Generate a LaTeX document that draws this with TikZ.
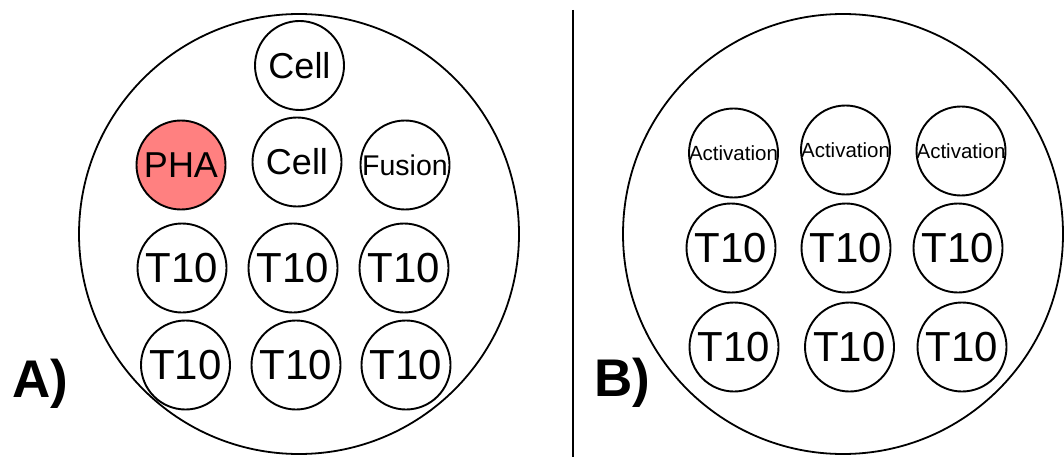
\documentclass[tikz,border=0pt]{standalone}
\usepackage{fontspec}
\setmainfont{Liberation Sans}
\begin{document}
\begin{tikzpicture}[x=1pt,y=-1pt,
  dish/.style={circle,draw=black,line width=1.8pt,minimum size=440pt,inner sep=0pt},
  well/.style={circle,draw=black,line width=1.9pt,fill=white,minimum size=89pt,inner sep=0pt},
  pha/.style={well,fill=phared},
  big/.style={font=\fontsize{42}{42}\selectfont},
  mid/.style={font=\fontsize{36}{36}\selectfont},
  small/.style={font=\fontsize{28.5}{28.5}\selectfont},
  tiny/.style={font=\fontsize{20.5}{20.5}\selectfont},
  panel/.style={font=\fontsize{53}{53}\selectfont\bfseries,inner sep=0pt,anchor=base west}]
\definecolor{phared}{RGB}{255,128,128}
\useasboundingbox (0,0) rectangle (1064,457);
\fill[white] (0,0) rectangle (1064,457);

% panel A: dish with its wells
\node[dish] (dishA) at (299,234) {};
\node[well,mid] (cellTop) at (299.5,65.5) {\makebox[0pt]{Cell}};
\node[pha,mid] (pha) at (181,165) {\makebox[0pt]{PHA}};
\node[well,mid] (cellMid) at (297,162) {\makebox[0pt]{Cell}};
\node[well,small] (fusion) at (405,165) {\makebox[0pt]{Fusion}};
\node[well,big] (a1) at (182,268) {\makebox[0pt]{T10}};
\node[well,big] (a2) at (293,268) {\makebox[0pt]{T10}};
\node[well,big] (a3) at (404,268) {\makebox[0pt]{T10}};
\node[well,big] (a4) at (185.5,365) {\makebox[0pt]{T10}};
\node[well,big] (a5) at (296,365) {\makebox[0pt]{T10}};
\node[well,big] (a6) at (406,365) {\makebox[0pt]{T10}};
\node[panel] (labA) at (12,397) {A)};

% divider
\coordinate (divTop) at (573,10);
\coordinate (divBot) at (573,457);
\draw[line width=2.8pt] (divTop) -- (divBot);

% panel B: dish with its wells
\node[dish] (dishB) at (843,234) {};
\node[well,tiny] (act1) at (733.5,153) {\makebox[0pt]{Activation}};
\node[well,tiny] (act2) at (845.5,150) {\makebox[0pt]{Activation}};
\node[well,tiny] (act3) at (961,151) {\makebox[0pt]{Activation}};
\node[well,big] (b1) at (731,248) {\makebox[0pt]{T10}};
\node[well,big] (b2) at (846,248) {\makebox[0pt]{T10}};
\node[well,big] (b3) at (958,248) {\makebox[0pt]{T10}};
\node[well,big] (b4) at (734,347) {\makebox[0pt]{T10}};
\node[well,big] (b5) at (849.5,347) {\makebox[0pt]{T10}};
\node[well,big] (b6) at (962,347) {\makebox[0pt]{T10}};
\node[panel] (labB) at (594,396) {B)};
\end{tikzpicture}
\end{document}
